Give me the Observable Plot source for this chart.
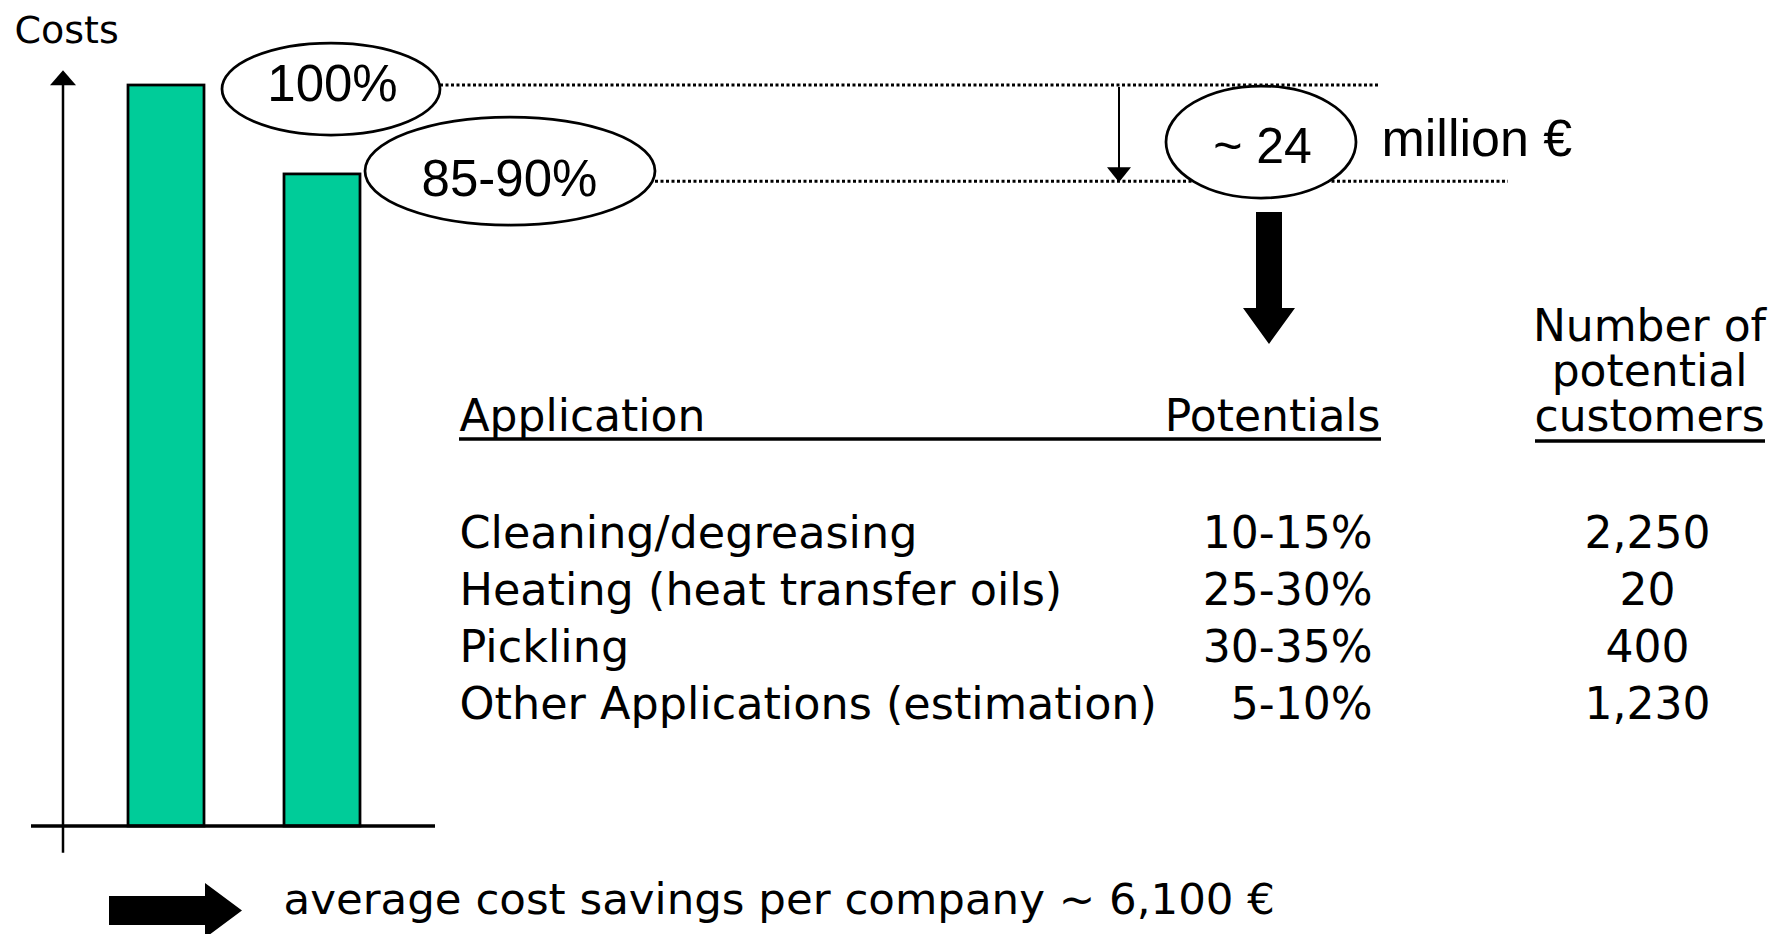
<!DOCTYPE html>
<html>
<head>
<meta charset="utf-8">
<script src="https://cdn.jsdelivr.net/npm/d3@7"></script>
<script src="https://cdn.jsdelivr.net/npm/@observablehq/plot@0.6"></script>
<style>
  html, body { margin: 0; padding: 0; background: #ffffff; }
  #chart { width: 1789px; height: 934px; overflow: hidden; }
</style>
</head>
<body>
<div id="chart"></div>
<script>
// ---------------- DATA ----------------
const barCategories = ["Current costs", "Costs with optimisation"];
const barValues = [100, 88];
const barLabels = ["100%", "85-90%"];
const levelLines = [100, 87];
const yAxisTitle = "Costs";
const savingValue = "~ 24";
const savingUnit = "million €";
const tableHeaders = ["Application", "Potentials", "Number of\npotential\ncustomers"];
const applications = ["Cleaning/degreasing", "Heating (heat transfer oils)", "Pickling", "Other Applications (estimation)"];
const potentials = ["10-15%", "25-30%", "30-35%", "5-10%"];
const customers = ["2,250", "20", "400", "1,230"];
const conclusion = "average cost savings per company ~ 6,100 €";

// ---------------- LAYOUT / STYLE ----------------
const W = 1789, H = 934;
const SANS = "'DejaVu Sans', Verdana, Tahoma, sans-serif";
const ARIAL = "'Liberation Sans', Arial, Helvetica, sans-serif";
const BAR_FILL = "#00cc99";

const bars = barCategories.map((c, i) => ({category: c, value: barValues[i]}));
const yFallback = d3.scaleLinear([0, 100], [826, 85]);
const Y = (scales, v) => (scales && typeof scales.y === "function") ? scales.y(v) : yFallback(v);

function svgMark(draw) {
  return (index, scales) => {
    const g = d3.create("svg:g");
    draw(g, scales);
    return g.node();
  };
}

function label(text, x, y, opts = {}) {
  return Plot.text([text], {
    text: d => d, frameAnchor: "top-left", dx: x, dy: y,
    lineAnchor: "bottom", fill: "black", fontFamily: SANS, fontSize: 44, ...opts
  });
}

// y-axis with arrow, and baseline
const axes = svgMark((g, s) => {
  const top = Y(s, 102), bottom = Y(s, -3.6), base = Y(s, 0);
  g.append("line").attr("x1", 63).attr("x2", 63).attr("y1", top + 12).attr("y2", bottom)
    .attr("stroke", "black").attr("stroke-width", 2.5);
  g.append("path").attr("d", `M63,${top} L76,${top + 15} L50,${top + 15} Z`).attr("fill", "black");
  g.append("line").attr("x1", 31).attr("x2", 435).attr("y1", base).attr("y2", base)
    .attr("stroke", "black").attr("stroke-width", 3.5);
});

// dotted level lines and the thin difference arrow
const levels = svgMark((g, s) => {
  const y1 = Y(s, levelLines[0]), y2 = Y(s, levelLines[1]);
  const seg = [[440, 1378, y1], [655, 1508, y2]];
  seg.forEach(([a, b, y]) => g.append("line").attr("x1", a).attr("x2", b).attr("y1", y).attr("y2", y)
    .attr("stroke", "black").attr("stroke-width", 3).attr("stroke-dasharray", "3 2.5"));
  g.append("line").attr("x1", 1119).attr("x2", 1119).attr("y1", y1 + 2).attr("y2", y2 - 12)
    .attr("stroke", "black").attr("stroke-width", 2);
  g.append("path").attr("d", `M1119,${y2 + 1} L1131,${y2 - 14} L1107,${y2 - 14} Z`).attr("fill", "black");
});

// ellipses
const ellipses = svgMark((g) => {
  [[331, 89, 109, 46], [510, 171, 145, 54], [1261, 142, 95, 56]].forEach(([cx, cy, rx, ry]) =>
    g.append("ellipse").attr("cx", cx).attr("cy", cy).attr("rx", rx).attr("ry", ry)
      .attr("fill", "white").attr("stroke", "black").attr("stroke-width", 2.75));
});

// block arrows
const blockArrows = svgMark((g) => {
  g.append("path").attr("d", "M1256,212 L1282,212 L1282,308 L1295,308 L1269,344 L1243,308 L1256,308 Z").attr("fill", "black");
  g.append("path").attr("d", "M109,896 L205,896 L205,883 L242,910.5 L205,938 L205,925 L109,925 Z").attr("fill", "black");
});

// table underlines
const underlines = svgMark((g) => {
  g.append("line").attr("x1", 459).attr("x2", 1381).attr("y1", 439).attr("y2", 439).attr("stroke", "black").attr("stroke-width", 3.5);
  g.append("line").attr("x1", 1535).attr("x2", 1765).attr("y1", 441).attr("y2", 441).attr("stroke", "black").attr("stroke-width", 3.5);
});

const chart = Plot.plot({
  width: W,
  height: H,
  margin: 0,
  x: {type: "band", domain: barCategories, range: [88.9, 400.3], paddingInner: 0.51, paddingOuter: 0.25, axis: null},
  y: {domain: [0, 100], range: [826, 85], axis: null},
  style: {background: "white", overflow: "visible"},
  marks: [
    Plot.barY(bars, {x: "category", y: "value", fill: BAR_FILL, stroke: "black", strokeWidth: 2.75}),
    axes,
    levels,
    ellipses,
    blockArrows,
    underlines,
    label(yAxisTitle, 14, 42, {fontSize: 38}),
    label(barLabels[0], 332, 100, {fontFamily: ARIAL, fontSize: 51, textAnchor: "middle"}),
    label(barLabels[1], 509, 195, {fontFamily: ARIAL, fontSize: 51, textAnchor: "middle"}),
    label(savingValue, 1262, 162, {fontFamily: ARIAL, fontSize: 50, textAnchor: "middle"}),
    label(savingUnit, 1381, 155, {fontFamily: ARIAL, fontSize: 52, textAnchor: "start"}),
    label(tableHeaders[0], 459, 430, {textAnchor: "start"}),
    label(tableHeaders[1], 1380, 430, {textAnchor: "end"}),
    label(tableHeaders[2], 1649, 430, {textAnchor: "middle", lineHeight: 45 / 44}),
    label(applications.join("\n"), 459, 718, {textAnchor: "start", fontSize: 44.5, lineHeight: 57 / 44.5}),
    label(potentials.join("\n"), 1372, 718, {textAnchor: "end", lineHeight: 57 / 44}),
    label(customers.join("\n"), 1647, 718, {textAnchor: "middle", lineHeight: 57 / 44}),
    label(conclusion, 283, 913, {textAnchor: "start", fontSize: 43.5})
  ]
});

document.getElementById("chart").appendChild(chart);
</script>
</body>
</html>
